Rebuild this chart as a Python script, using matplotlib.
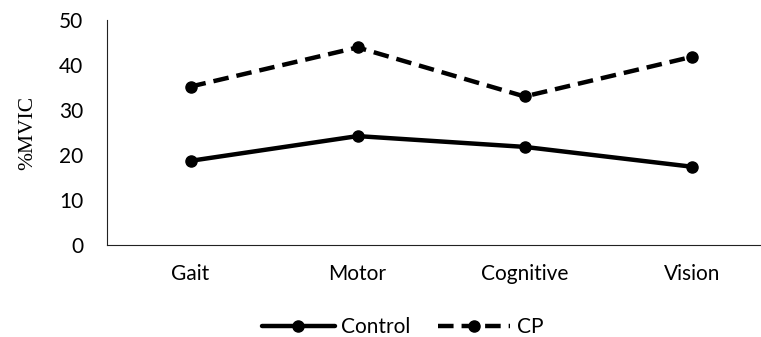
import matplotlib.pyplot as plt
import numpy

categories = ["Gait", "Motor", "Cognitive", "Vision"]
control = [18.7, 24.2, 21.8, 17.4]
cp = [35.2, 43.9, 33.0, 41.8]
yticks = [0, 10, 20, 30, 40, 50]

plt.rcParams['font.family'] = ['Lato', 'DejaVu Sans']

fig = plt.figure(figsize=(7.61, 3.37), dpi=100)
ax = fig.add_axes([0.1406, 0.273, 0.878, 0.6677])

xvals = numpy.arange(len(categories))
ax.plot(xvals, control, color='black', linewidth=3.2, marker='o', markersize=8,
        solid_capstyle='round', label='Control')
ax.plot(xvals, cp, color='black', linewidth=3.2, marker='o', markersize=8,
        linestyle=(0, (3.5, 1.8)), label='CP')

ax.set_xlim(-0.5, 3.5)
ax.set_ylim(0, 50)
ax.set_xticks(xvals)
ax.set_xticklabels(categories, fontsize=15)
ax.set_yticks(yticks)
ax.tick_params(axis='y', labelsize=15, length=0, pad=17)
ax.tick_params(axis='x', length=0, pad=14)
ax.set_ylabel("%MVIC", family='Liberation Serif', fontsize=15.5, labelpad=16)

ax.spines['top'].set_visible(False)
ax.spines['right'].set_visible(False)
ax.spines['left'].set_color('#222222')
ax.spines['bottom'].set_color('#222222')

fig.legend(loc='center', bbox_to_anchor=(0.529, 0.03), ncol=2, frameon=False,
           fontsize=15, handlelength=3.5, columnspacing=1.3, handletextpad=0.3)

fig.savefig("out.png", dpi=100)
